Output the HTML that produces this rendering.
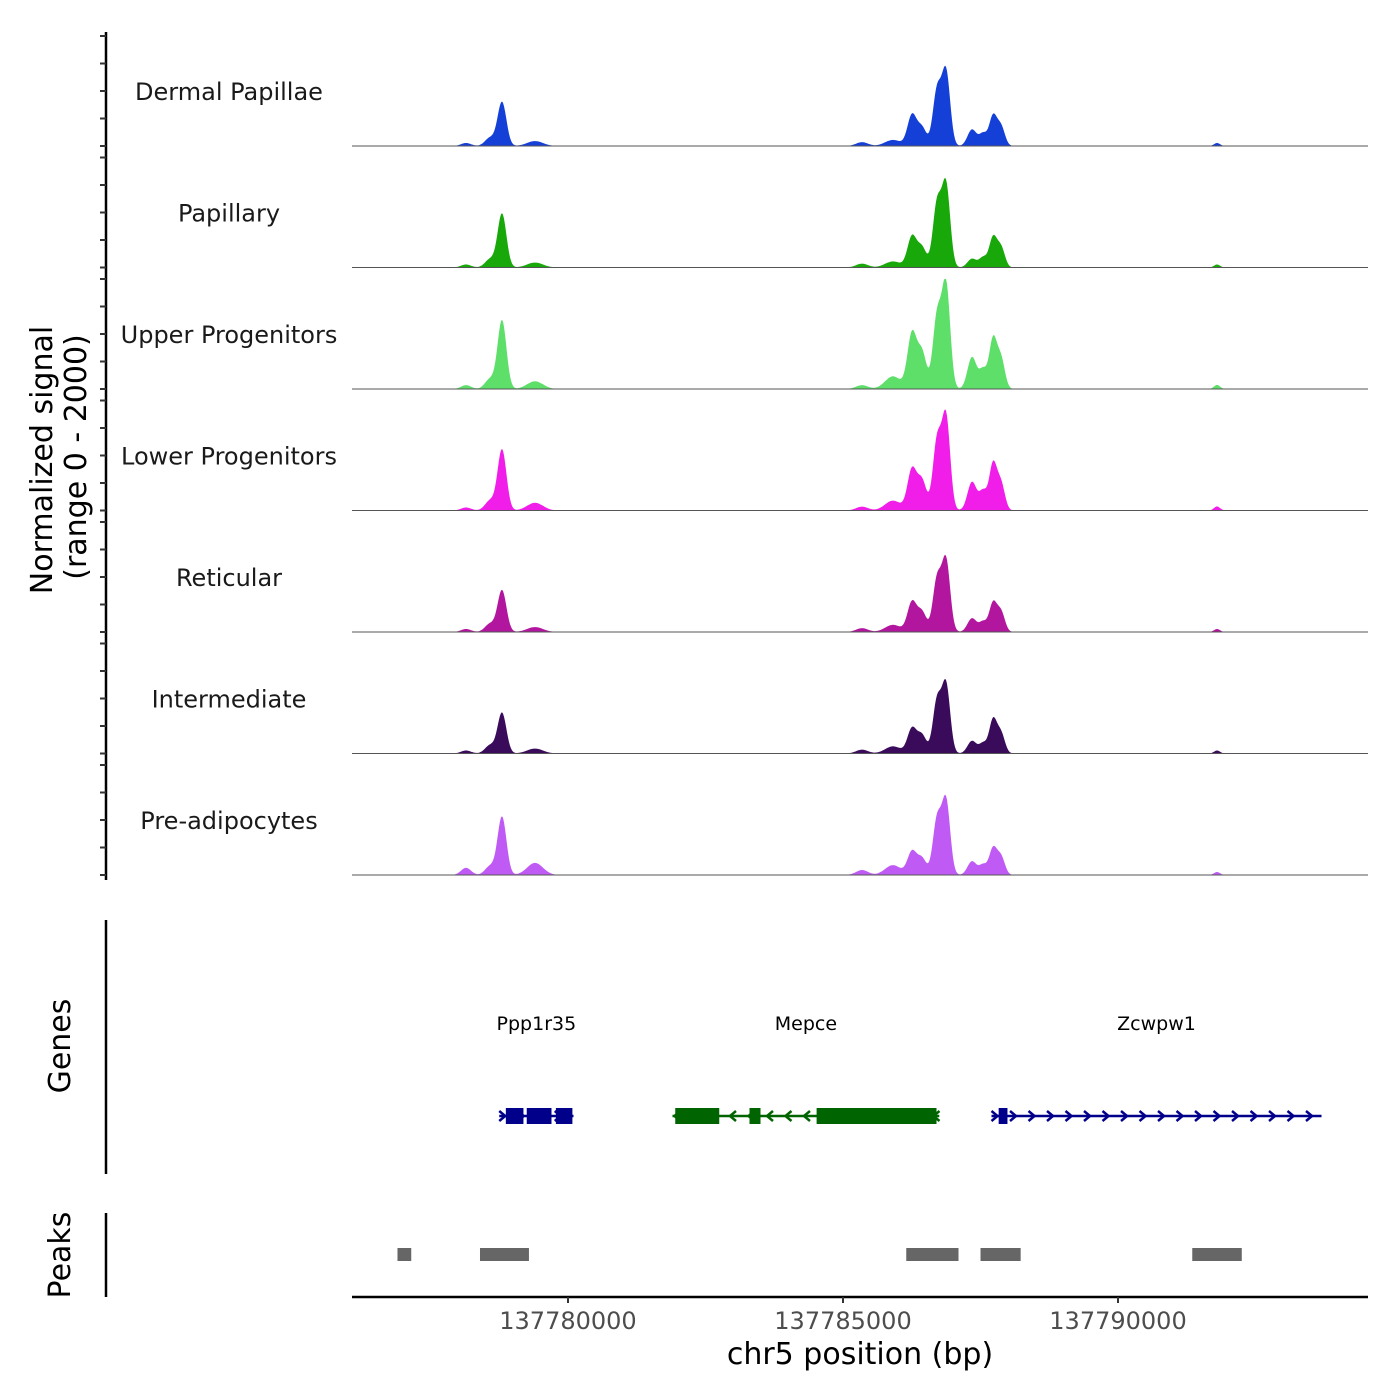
<!DOCTYPE html>
<html><head><meta charset="utf-8"><style>body{margin:0;background:#fff}svg{display:block;font-family:"DejaVu Sans","Liberation Sans",sans-serif}</style></head>
<body>
<svg id="c" width="1400" height="1400" xmlns="http://www.w3.org/2000/svg"></svg>
<script>
const trackNames=["Dermal Papillae","Papillary","Upper Progenitors","Lower Progenitors","Reticular","Intermediate","Pre-adipocytes"];
const trackColors=["#1440d8","#19a80a","#5ddf6a","#f01ee8","#b3169e","#3a0b5a","#c05af5"];
// peak centres (bp) and widths (bp)
const peakPos=[137778146,137778582,137778800,137779400,137785346,137785909,137786255,137786436,137786709,137786873,137787346,137787546,137787728,137787873,137791800];
const peakWid=[91,91,80,145,109,145,82,82,75,75,82,70,70,70,55];
// heights (signal units, 0-2000) per track
const heights=[
[55,150,800,90,70,110,560,330,1000,1350,300,220,540,350,55],
[55,150,980,90,70,110,560,360,1150,1500,160,180,540,360,55],
[70,180,1250,140,70,230,1000,660,1300,1900,580,340,900,540,75],
[55,180,1110,140,70,180,740,540,1250,1700,520,340,840,480,75],
[55,150,760,90,70,130,540,360,950,1300,250,180,520,360,55],
[55,150,740,90,70,130,450,330,950,1250,230,180,610,360,55],
[130,160,1060,220,90,180,420,300,1000,1350,250,180,480,330,55]];
const geneNames=["Ppp1r35","Mepce","Zcwpw1"];
const geneStart=[137778750,137781900,137787700];
const geneEnd=[137780100,137786750,137793700];
const geneStrand=[1,-1,1];
const geneColors=["#00008b","#006400","#00008b"];
const exonStarts=[[137778870,137779250,137779500,137779780],[137781950,137783300,137784520],[137787830]];
const exonEnds=[[137779190,137779520,137779700,137780080],[137782750,137783500,137786700],[137787990]];
const peakStarts=[137776900,137778400,137786150,137787500,137791350];
const peakEnds=[137777150,137779290,137787100,137788230,137792250];
const xTicks=[137780000,137785000,137790000];

const svg=document.getElementById('c');const NS="http://www.w3.org/2000/svg";
function el(t,a,p){const e=document.createElementNS(NS,t);for(const k in a)e.setAttribute(k,a[k]);(p||svg).appendChild(e);return e;}
const X0=137776073,X1=137794545,PX0=352,PX1=1368;
const xs=v=>PX0+(v-X0)/(X1-X0)*(PX1-PX0);
const base0=146,trackH=121.5,sigScale=110/2000;
let ax=el('line',{x1:106,y1:32,x2:106,y2:880,stroke:'#000','stroke-width':2.5});

for(let t=0;t<7;t++){
 const b=base0+t*trackH;
 for(let k=0;k<=4;k++){const y=b-k*500*sigScale;const tk=el('line',{x1:100,y1:y,x2:106,y2:y,stroke:'#333','stroke-width':2});}
 const g=el('g',{});
 let d=`M${PX0},${b}`;
 for(let px=PX0;px<=PX1;px+=1){
  const bp=X0+(px-PX0)/(PX1-PX0)*(X1-X0);let s=0;
  for(let i=0;i<peakPos.length;i++){const z=(bp-peakPos[i])/peakWid[i];s+=heights[t][i]*Math.exp(-0.5*z*z);}
  d+=`L${px},${(b-Math.min(s,2000)*sigScale).toFixed(1)}`;
 }
 d+=`L${PX1},${b}Z`;
 const a=el('path',{d,fill:trackColors[t]},g);
 const bl=el('line',{x1:PX0,y1:b,x2:PX1,y2:b,stroke:'#555','stroke-width':1},g);
 const lb=el('text',{x:229,y:b-46,'font-size':24,'text-anchor':'middle',fill:'#1a1a1a'},g);lb.textContent=trackNames[t];
 
}
let yt=el('text',{transform:'translate(52,460) rotate(-90)','font-size':30,'text-anchor':'middle'});yt.textContent='Normalized signal';

let yt2=el('text',{transform:'translate(86,457) rotate(-90)','font-size':30,'text-anchor':'middle'});yt2.textContent='(range 0 - 2000)';

let ga=el('line',{x1:106,y1:920,x2:106,y2:1174,stroke:'#000','stroke-width':2.5});
let gt=el('text',{transform:'translate(70,1046) rotate(-90)','font-size':30,'text-anchor':'middle'});gt.textContent='Genes';

const gy=1116;
for(let i=0;i<geneNames.length;i++){
 const g=el('g',{});
 const c=geneColors[i];const x1=xs(geneStart[i]),x2=xs(geneEnd[i]);
 el('line',{x1,y1:gy,x2,y2:gy,stroke:c,'stroke-width':2.5},g);
 for(let x=x1+4;x<x2-2;x+=18.5){const s=geneStrand[i];el('path',{d:`M${x-4*s},${gy-5}L${x+2*s},${gy}L${x-4*s},${gy+5}`,stroke:c,fill:'none','stroke-width':2.5},g);}
 for(let j=0;j<exonStarts[i].length;j++){const a=xs(exonStarts[i][j]),b=xs(exonEnds[i][j]);el('rect',{x:a,y:gy-8,width:b-a,height:16,fill:c},g);}
 const t=el('text',{x:(x1+x2)/2,y:1030,'font-size':19,'text-anchor':'middle'},g);t.textContent=geneNames[i];
}
let pa=el('line',{x1:106,y1:1213,x2:106,y2:1297,stroke:'#000','stroke-width':2.5});
let pt=el('text',{transform:'translate(70,1255) rotate(-90)','font-size':30,'text-anchor':'middle'});pt.textContent='Peaks';

for(let i=0;i<peakStarts.length;i++){const a=xs(peakStarts[i]),b=xs(peakEnds[i]);const r=el('rect',{x:a,y:1248,width:b-a,height:13,fill:'#666'});
 }
let xa=el('line',{x1:PX0,y1:1297,x2:PX1,y2:1297,stroke:'#000','stroke-width':2.5});
for(const v of xTicks){const x=xs(v);el('line',{x1:x,y1:1297,x2:x,y2:1303,stroke:'#333','stroke-width':2});
 const t=el('text',{x,y:1329,'font-size':24,'text-anchor':'middle',fill:'#4d4d4d'});t.textContent=v;}
let xt=el('text',{x:860,y:1364,'font-size':30,'text-anchor':'middle'});xt.textContent='chr5 position (bp)';

</script>
</body></html>
